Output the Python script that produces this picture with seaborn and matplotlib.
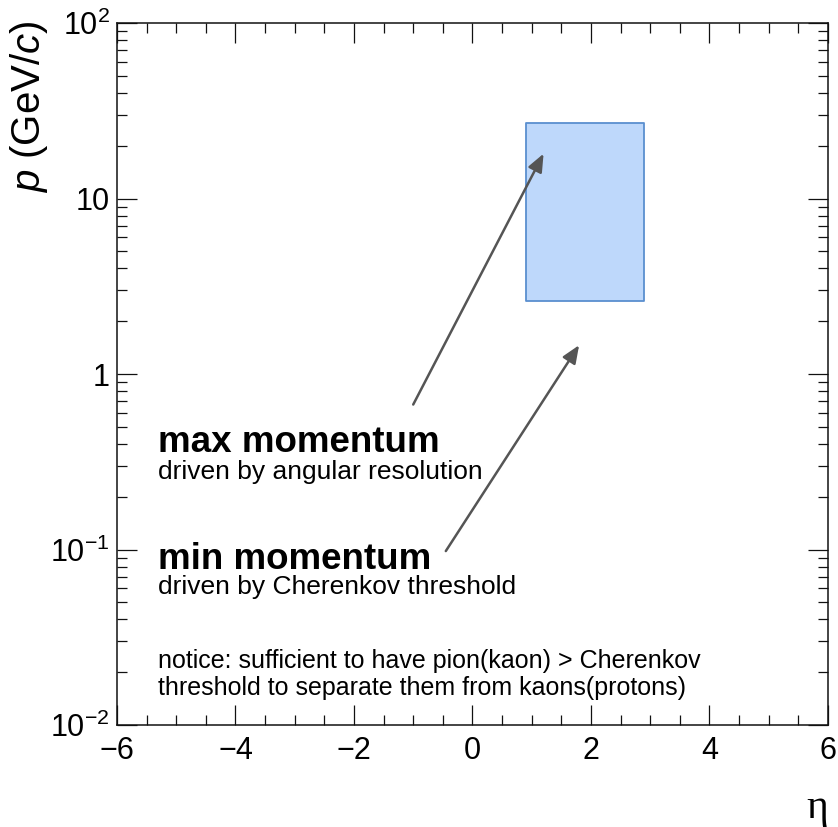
import matplotlib
matplotlib.use('Agg')
import matplotlib.pyplot as plt
import seaborn as sns
from matplotlib.ticker import FixedLocator, FixedFormatter, MultipleLocator, LogLocator, NullFormatter

# covered region in (eta, p)
eta_range = [0.9, 2.9]
p_range = [2.6, 27.0]

# annotation arrows: tail -> head, in (eta, p)
max_arrow_tail = [-1.0, 0.67]
max_arrow_head = [1.2, 18.0]
min_arrow_tail = [-0.45, 0.098]
min_arrow_head = [1.8, 1.46]

x_ticks = [-6, -4, -2, 0, 2, 4, 6]
x_tick_labels = ['\u22126', '\u22124', '\u22122', '0', '2', '4', '6']
y_ticks = [0.01, 0.1, 1, 10, 100]
y_tick_labels = [r'$10^{-2}$', r'$10^{-1}$', '1', '10', r'$10^{2}$']

sns.set_style('ticks')
plt.rcParams['font.family'] = ['Liberation Sans', 'DejaVu Sans']
plt.rcParams['mathtext.fontset'] = 'custom'
plt.rcParams['mathtext.rm'] = 'Liberation Sans'
plt.rcParams['mathtext.it'] = 'Liberation Sans:italic'
plt.rcParams['mathtext.bf'] = 'Liberation Sans:bold'
plt.rcParams['text.color'] = 'black'
plt.rcParams['axes.labelcolor'] = 'black'
plt.rcParams['xtick.color'] = 'black'
plt.rcParams['ytick.color'] = 'black'

fig = plt.figure(figsize=(8.38, 8.27), dpi=100)
ax = fig.add_axes([0.1396, 0.1233, 0.8484, 0.8489])

# blue box
ax.fill_between(eta_range, p_range[0], p_range[1],
                facecolor='#bed8fb', edgecolor='#5a8fcf', linewidth=1.3, zorder=2)

arrow_style = dict(arrowstyle='-|>,head_length=0.6,head_width=0.25', color='#555555',
                   lw=1.8, mutation_scale=18, shrinkA=0, shrinkB=0)
ax.annotate('', xy=max_arrow_head, xytext=max_arrow_tail, arrowprops=arrow_style, zorder=3)
ax.annotate('', xy=min_arrow_head, xytext=min_arrow_tail, arrowprops=arrow_style, zorder=3)

ax.set_xlim(-6, 6)
ax.set_yscale('log')
ax.set_ylim(0.01, 100)

ax.xaxis.set_major_locator(FixedLocator(x_ticks))
ax.xaxis.set_major_formatter(FixedFormatter(x_tick_labels))
ax.xaxis.set_minor_locator(MultipleLocator(0.5))
ax.yaxis.set_major_locator(FixedLocator(y_ticks))
ax.yaxis.set_major_formatter(FixedFormatter(y_tick_labels))
ax.yaxis.set_minor_locator(LogLocator(base=10, subs=range(2, 10)))
ax.yaxis.set_minor_formatter(NullFormatter())

ax.tick_params(which='both', direction='in', top=True, right=True, color='#111111')
ax.tick_params(which='major', length=14.4, width=0.9, labelsize=22)
ax.tick_params(which='minor', length=7.2, width=0.9)
ax.tick_params(axis='x', which='major', pad=8)
ax.tick_params(axis='y', which='major', pad=5)
for s in ax.spines.values():
    s.set_linewidth(1.1)
    s.set_color('#111111')

ax.set_xlabel('\u03b7', fontsize=30, family=['Liberation Serif', 'DejaVu Serif'], loc='right')
ax.xaxis.set_label_coords(1.0, -0.091)
ax.set_ylabel('$p$ (GeV/$c$)', fontsize=29, loc='top')
ax.yaxis.set_label_coords(-0.094, 1.004)

tx = 0.058
ax.text(tx, 0.389, 'max momentum', transform=ax.transAxes, fontsize=26.5,
        fontweight='bold', va='baseline')
ax.text(tx, 0.350, 'driven by angular resolution', transform=ax.transAxes,
        fontsize=19, va='baseline')
ax.text(tx, 0.222, 'min momentum', transform=ax.transAxes, fontsize=26.5,
        fontweight='bold', va='baseline')
ax.text(tx, 0.186, 'driven by Cherenkov threshold', transform=ax.transAxes,
        fontsize=19, va='baseline')
ax.text(tx, 0.081, 'notice: sufficient to have pion(kaon) > Cherenkov', transform=ax.transAxes,
        fontsize=18, va='baseline')
ax.text(tx, 0.043, 'threshold to separate them from kaons(protons)', transform=ax.transAxes,
        fontsize=18, va='baseline')

plt.savefig('out.png', dpi=100)
